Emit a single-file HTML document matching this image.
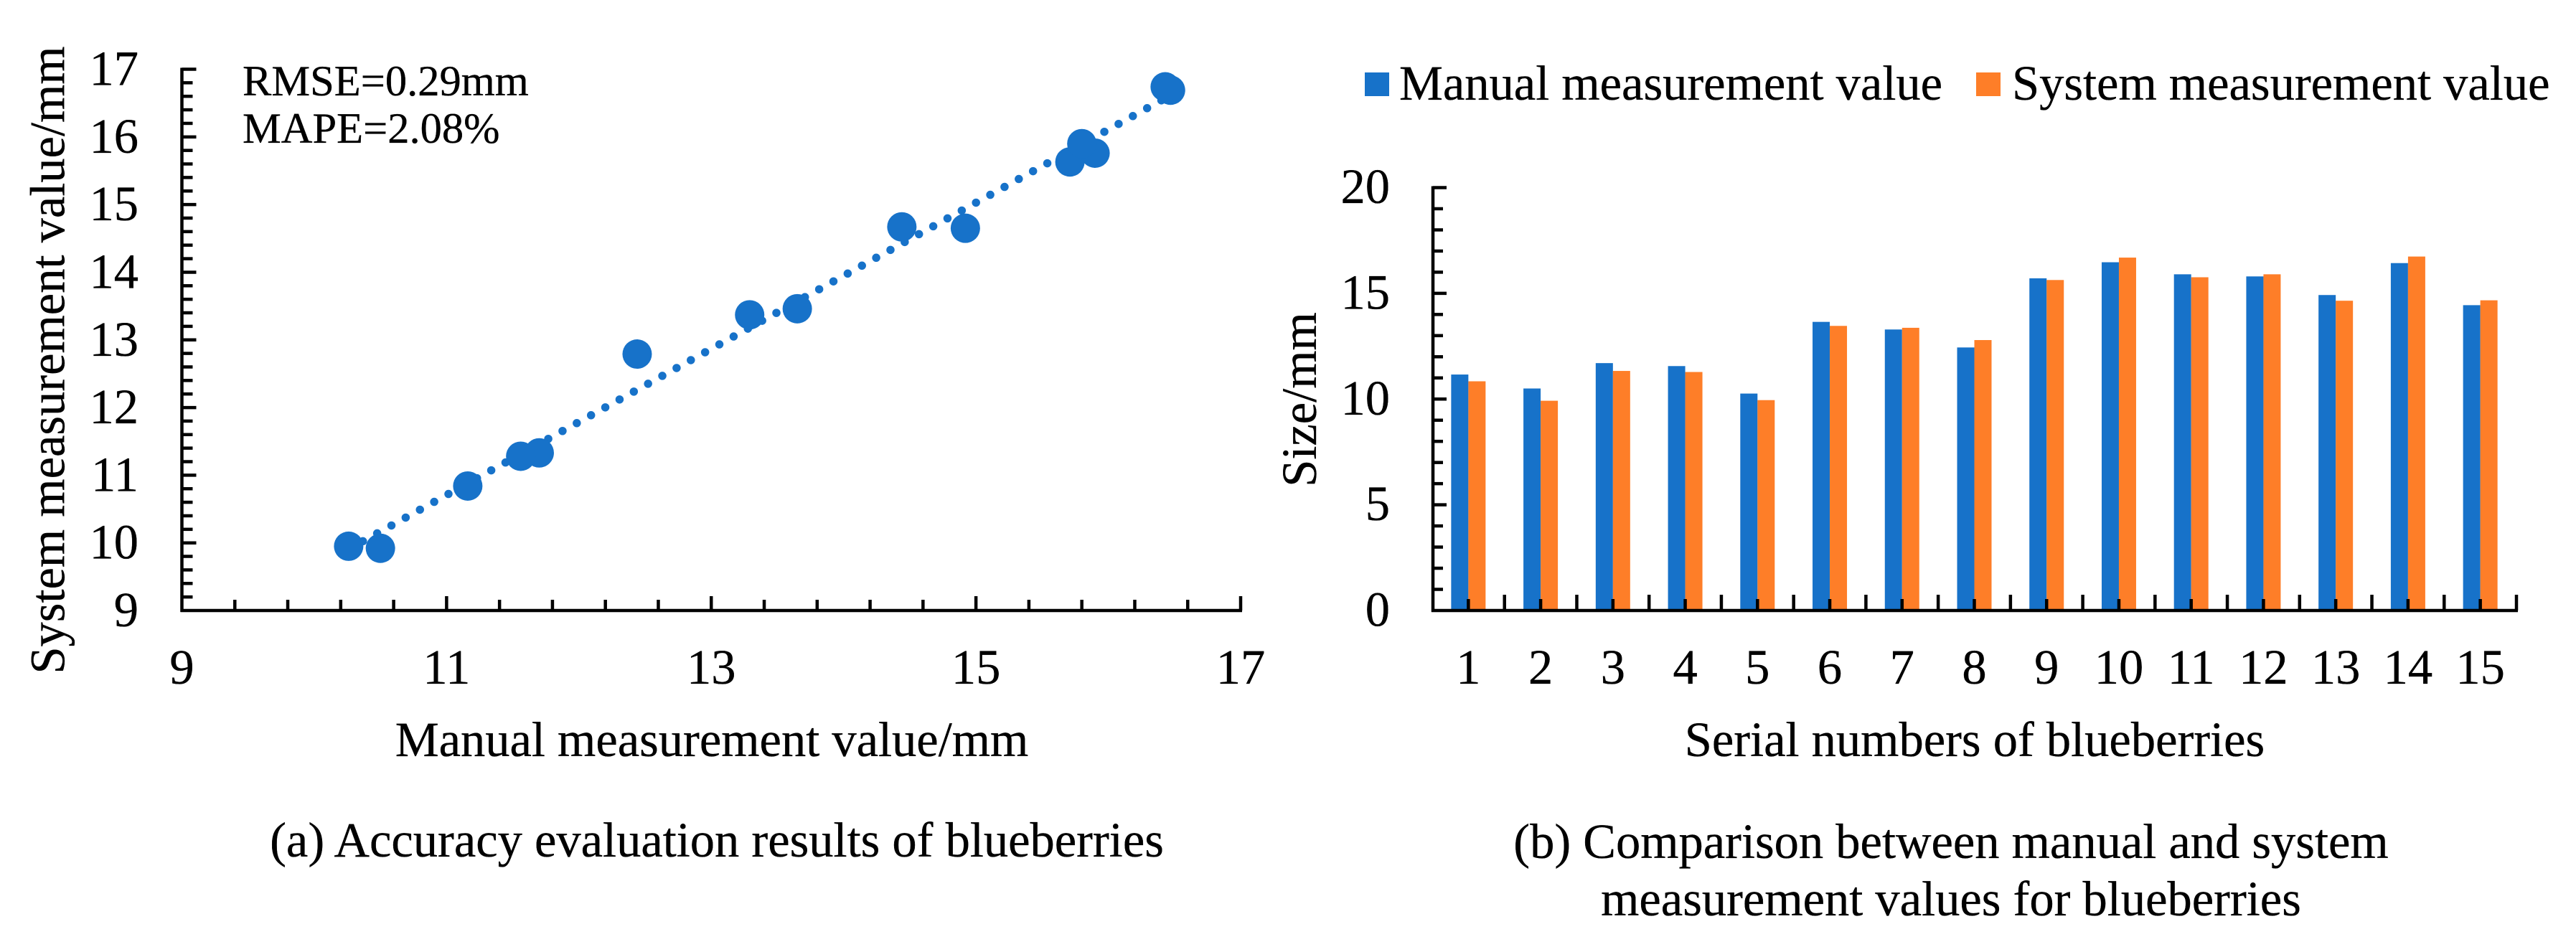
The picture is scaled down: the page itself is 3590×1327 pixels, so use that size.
<!DOCTYPE html>
<html lang="en">
<head>
<meta charset="utf-8">
<title>Blueberry measurement accuracy charts</title>
<style>
html,body{margin:0;padding:0;background:#fff;}
svg{display:block;}
text{font-family:"Liberation Serif","Times New Roman",serif;fill:#000;stroke:#000;stroke-width:0.35px;}
</style>
</head>
<body>
<svg id="figure" xmlns="http://www.w3.org/2000/svg" width="3590" height="1327" viewBox="0 0 3590 1327">
  <rect x="0" y="0" width="3590" height="1327" fill="#ffffff"/>
  <g id="scatter-chart"></g>
  <g id="bar-chart"></g>

  <text x="338" y="133" font-size="60.5">RMSE=0.29mm</text>
  <text x="338" y="199" font-size="60.5">MAPE=2.08%</text>
  <text x="992" y="1054" font-size="68.5" text-anchor="middle">Manual measurement value/mm</text>
  <text transform="translate(89.5 502) rotate(-90)" font-size="68.5" text-anchor="middle">System measurement value/mm</text>
  <text x="999" y="1194" font-size="68.5" text-anchor="middle">(a) Accuracy evaluation results of blueberries</text>

  <rect x="1902" y="101" width="34" height="33" fill="#1772c9"/>
  <text x="1950" y="139" font-size="68.5">Manual measurement value</text>
  <rect x="2754" y="101" width="34" height="33" fill="#fe7e28"/>
  <text x="2804" y="139" font-size="68.5">System measurement value</text>
  <text x="2752" y="1054" font-size="68.5" text-anchor="middle">Serial numbers of blueberries</text>
  <text transform="translate(1834 557) rotate(-90)" font-size="68.5" text-anchor="middle">Size/mm</text>
  <text x="2719" y="1196" font-size="68.5" text-anchor="middle">(b) Comparison between manual and system</text>
  <text x="2719" y="1276" font-size="68.5" text-anchor="middle">measurement values for blueberries</text>
</svg>
<script>
const serialNumbers = ["1","2","3","4","5","6","7","8","9","10","11","12","13","14","15"];
const manualValues = [11.16,10.50,11.70,11.56,10.26,13.65,13.29,12.44,15.71,16.47,15.90,15.80,14.92,16.43,14.44];
const systemValues = [10.84,9.92,11.33,11.28,9.95,13.46,13.37,12.79,15.63,16.69,15.76,15.90,14.65,16.74,14.67];
const scatterXTicks = ["9","11","13","15","17"];
const scatterYTicks = ["9","10","11","12","13","14","15","16","17"];
const barYTicks = ["0","5","10","15","20"];

const NS = "http://www.w3.org/2000/svg";
const BLUE = "#1772c9";
const ORANGE = "#fe7e28";

const scatterX = v => 253.5 + (v - 9) * (1729 - 253.5) / 8;
const scatterY = v => 851 - (v - 9) * (851 - 96.5) / 8;
const barY = v => 851 - v * (851 - 261.5) / 20;
const BAR_LEFT = 1996;
const BAR_RIGHT = 3507;
const barStep = (BAR_RIGHT - BAR_LEFT) / serialNumbers.length;
const barCenter = i => BAR_LEFT + (i + 0.5) * barStep;

function make(tag, parent, attrs) {
  const el = document.createElementNS(NS, tag);
  for (const k in attrs) el.setAttribute(k, attrs[k]);
  parent.appendChild(el);
  return el;
}
function line(parent, x1, y1, x2, y2, w) {
  return make("line", parent, {x1: x1, y1: y1, x2: x2, y2: y2, stroke: "#000", "stroke-width": w});
}
function label(parent, str, x, y, anchor) {
  const t = make("text", parent, {x: x, y: y, "font-size": 68.5, "text-anchor": anchor});
  t.textContent = str;
  return t;
}

/* ---------- scatter chart ---------- */
const scatter = document.getElementById("scatter-chart");

function regression(xs, ys) {
  const mx = xs.reduce((a, b) => a + b, 0) / xs.length;
  const my = ys.reduce((a, b) => a + b, 0) / ys.length;
  let sxy = 0, sxx = 0;
  xs.forEach((x, i) => { sxy += (x - mx) * (ys[i] - my); sxx += (x - mx) * (x - mx); });
  const slope = sxy / sxx;
  return {slope: slope, intercept: my - slope * mx};
}
const fit = regression(manualValues, systemValues);
const xMin = Math.min.apply(null, manualValues);
const xMax = Math.max.apply(null, manualValues);
const trend = make("line", scatter, {
  x1: scatterX(xMin), y1: scatterY(fit.slope * xMin + fit.intercept),
  x2: scatterX(xMax), y2: scatterY(fit.slope * xMax + fit.intercept),
  stroke: BLUE, "stroke-width": 11.5, "stroke-linecap": "round", "stroke-dasharray": "0 22.7"
});



manualValues.forEach((m, i) => {
  const c = make("circle", scatter, {cx: scatterX(m), cy: scatterY(systemValues[i]), r: 20.5, fill: BLUE});
  
  
});

const scatterAxes = make("g", scatter, {});


line(scatterAxes, scatterX(9), scatterY(17) - 2, scatterX(9), scatterY(9) + 2, 4.5);
line(scatterAxes, scatterX(9) - 2, scatterY(9), scatterX(17) + 2, scatterY(9), 4.5);
for (let k = 1; k <= 20; k++) {
  const major = k % 5 === 0;
  const px = scatterX(9 + k * 0.4);
  line(scatterAxes, px, scatterY(9), px, scatterY(9) - (major ? 20 : 15), 4.5);
}
for (let k = 1; k <= 40; k++) {
  const major = k % 5 === 0;
  const py = scatterY(9 + k * 0.2);
  line(scatterAxes, scatterX(9), py, scatterX(9) + (major ? 20 : 15), py, 4.5);
}
scatterXTicks.forEach(t => {
  const el = label(scatter, t, scatterX(+t), 953, "middle");
  
  
});
scatterYTicks.forEach(t => {
  const el = label(scatter, t, 193, scatterY(+t) + 22, "end");
  
  
});

/* ---------- bar chart ---------- */
const bars = document.getElementById("bar-chart");
const BAR_W = 24;
serialNumbers.forEach((s, i) => {
  const b1 = make("rect", bars, {x: barCenter(i) - BAR_W, y: barY(manualValues[i]), width: BAR_W, height: barY(0) - barY(manualValues[i]), fill: BLUE});
  
  
  const b2 = make("rect", bars, {x: barCenter(i), y: barY(systemValues[i]), width: BAR_W, height: barY(0) - barY(systemValues[i]), fill: ORANGE});
  
  
  const el = label(bars, s, barCenter(i), 953, "middle");
  
  
});

const barAxes = make("g", bars, {});


line(barAxes, BAR_LEFT + 1, barY(20) - 2, BAR_LEFT + 1, barY(0) + 2, 4.5);
line(barAxes, BAR_LEFT - 1, barY(0), BAR_RIGHT + 2, barY(0), 4.5);
for (let i = 0; i < serialNumbers.length; i++) {
  const px = barCenter(i);
  line(barAxes, px, barY(0), px, barY(0) - 16, 4.5);
  line(barAxes, px + barStep / 2, barY(0), px + barStep / 2, barY(0) - 22, 4.5);
}
for (let v = 1; v <= 20; v++) {
  const major = v % 5 === 0;
  line(barAxes, BAR_LEFT + 1, barY(v), BAR_LEFT + 1 + (major ? 19 : 14), barY(v), 4.5);
}
barYTicks.forEach(t => {
  const el = label(bars, t, 1937, barY(+t) + 21.5, "end");
  
  
});
</script>
</body>
</html>
